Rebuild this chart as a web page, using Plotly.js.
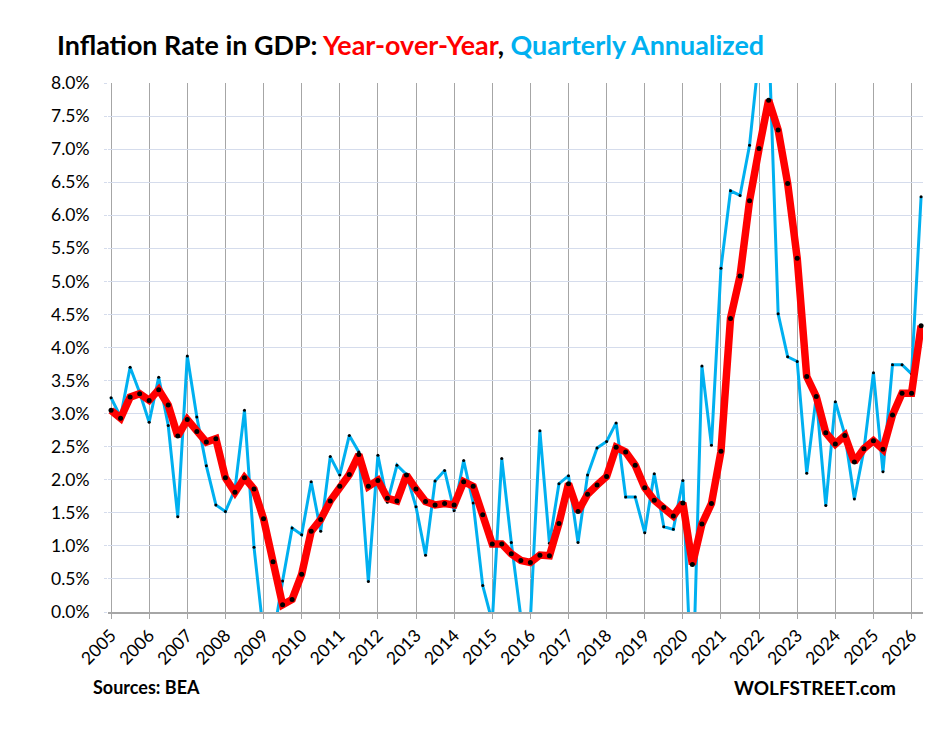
<!DOCTYPE html>
<html>
<head>
<meta charset="utf-8">
<script src="https://cdn.plot.ly/plotly-3.0.1.min.js"></script>
<style>
  html, body { margin: 0; padding: 0; background: #ffffff; }
  #chart { width: 948px; height: 737px; }
</style>
</head>
<body>
<div id="chart"></div>
<script>
// Quarterly data, 2005 Q1 through 2026 Q2
const startYear = 2005;

// Year-over-year inflation rate of the GDP price index (%)
const yoyRate = [
  3.05, 2.93, 3.25, 3.30,   // 2005
  3.20, 3.36, 3.13, 2.66,   // 2006
  2.91, 2.73, 2.57, 2.62,   // 2007
  2.03, 1.81, 2.03, 1.86,   // 2008
  1.41, 0.76, 0.11, 0.19,   // 2009
  0.57, 1.22, 1.40, 1.68,   // 2010
  1.90, 2.08, 2.38, 1.90,   // 2011
  1.99, 1.72, 1.68, 2.07,   // 2012
  1.86, 1.67, 1.62, 1.64,   // 2013
  1.62, 1.97, 1.90, 1.47,   // 2014
  1.03, 1.03, 0.88, 0.78,   // 2015
  0.75, 0.86, 0.85, 1.34,   // 2016
  1.94, 1.52, 1.78, 1.92,   // 2017
  2.05, 2.49, 2.42, 2.22,   // 2018
  1.88, 1.69, 1.58, 1.45,   // 2019
  1.65, 0.72, 1.33, 1.64,   // 2020
  2.43, 4.44, 5.08, 6.22,   // 2021
  7.01, 7.74, 7.29, 6.48,   // 2022
  5.35, 3.56, 3.26, 2.71,   // 2023
  2.54, 2.67, 2.27, 2.47,   // 2024
  2.59, 2.46, 2.98, 3.31,   // 2025
  3.31, 4.33                // 2026
];

// Quarter-over-quarter annualized inflation rate (%)
const qoqAnnualized = [
  3.24, 2.95, 3.70, 3.32,   // 2005
  2.87, 3.55, 2.82, 1.44,   // 2006
  3.87, 2.95, 2.21, 1.62,   // 2007
  1.52, 1.85, 3.05, 0.98,   // 2008
  -0.33, -0.40, 0.47, 1.27, // 2009
  1.17, 1.97, 1.22, 2.35,   // 2010
  2.07, 2.67, 2.42, 0.46,   // 2011
  2.37, 1.66, 2.22, 2.08,   // 2012
  1.59, 0.86, 1.98, 2.14,   // 2013
  1.53, 2.29, 1.65, 0.40,   // 2014
  -0.15, 2.32, 1.05, -0.08, // 2015
  -0.12, 2.74, 1.04, 1.94,  // 2016
  2.06, 1.05, 2.07, 2.48,   // 2017
  2.58, 2.86, 1.74, 1.74,   // 2018
  1.20, 2.09, 1.29, 1.25,   // 2019
  1.99, -1.40, 3.72, 2.52,  // 2020
  5.20, 6.37, 6.30, 7.06,   // 2021
  8.44, 8.77, 4.51, 3.86,   // 2022
  3.79, 2.10, 3.26, 1.61,   // 2023
  3.18, 2.68, 1.71, 2.45,   // 2024
  3.62, 2.12, 3.74, 3.74,   // 2025
  3.60, 6.28                // 2026
];

const yearTicks = [2005, 2006, 2007, 2008, 2009, 2010, 2011, 2012, 2013, 2014, 2015,
                   2016, 2017, 2018, 2019, 2020, 2021, 2022, 2023, 2024, 2025, 2026];
const yTickVals = [0, 0.5, 1, 1.5, 2, 2.5, 3, 3.5, 4, 4.5, 5, 5.5, 6, 6.5, 7, 7.5, 8];
const yTickText = ["0.0%", "0.5%", "1.0%", "1.5%", "2.0%", "2.5%", "3.0%", "3.5%", "4.0%",
                   "4.5%", "5.0%", "5.5%", "6.0%", "6.5%", "7.0%", "7.5%", "8.0%"];

// quarter positions on the time axis (Q1 at the start of the year)
const quarterX = yoyRate.map((_, i) => startYear + i / 4);

const RED = "#ff0000";
const BLUE = "#00b0f0";
const FONT = "Lato, 'Open Sans', sans-serif";

const traces = [
  {
    x: quarterX,
    y: qoqAnnualized,
    type: "scatter",
    mode: "lines+markers",
    line: { color: BLUE, width: 3 },
    marker: { color: "#000000", size: 3 },
    cliponaxis: true,
    hoverinfo: "x+y",
    name: "Quarterly Annualized"
  },
  {
    x: quarterX,
    y: yoyRate,
    type: "scatter",
    mode: "lines+markers",
    line: { color: RED, width: 7.5 },
    marker: { color: "#000000", size: 5 },
    cliponaxis: false,
    hoverinfo: "x+y",
    name: "Year-over-Year"
  }
];

const layout = {
  width: 948,
  height: 737,
  paper_bgcolor: "#ffffff",
  plot_bgcolor: "#ffffff",
  showlegend: false,
  margin: { l: 108, r: 25, t: 83, b: 125, pad: 0 },
  font: { family: FONT, color: "#000000", size: 17 },
  title: {
    text: "<b>Inflation Rate in GDP: <span style='color:" + RED + "'>Year-over-Year</span>, " +
          "<span style='color:" + BLUE + "'>Quarterly Annualized</span></b>",
    font: { family: FONT, size: 26.9, color: "#000000" },
    xref: "container",
    yref: "container",
    x: 57 / 948,
    xanchor: "left",
    y: 1 - 46 / 737,
    yanchor: "middle"
  },
  xaxis: {
    type: "linear",
    range: [2004.92, 2026.3],
    tickmode: "array",
    tickvals: yearTicks,
    ticktext: yearTicks.map(String),
    tickangle: -45,
    tickfont: { family: FONT, size: 17.5, color: "#000000" },
    showgrid: true,
    gridcolor: "#a6a6a6",
    gridwidth: 1,
    zeroline: false,
    showline: true,
    linecolor: "#a6a6a6",
    linewidth: 1.5,
    ticks: "outside",
    ticklen: 5,
    tickcolor: "#a6a6a6",
    fixedrange: true
  },
  yaxis: {
    range: [0, 8],
    tickmode: "array",
    tickvals: yTickVals,
    ticktext: yTickText,
    tickfont: { family: FONT, size: 17.5, color: "#000000" },
    showgrid: true,
    gridcolor: "#d5dcec",
    gridwidth: 1,
    zeroline: false,
    showline: false,
    ticks: "outside",
    ticklen: 3,
    tickcolor: "#d5dcec",
    ticklabelstandoff: 11,
    fixedrange: true
  },
  annotations: [
    {
      text: "<b>Sources: BEA</b>",
      xref: "paper", yref: "paper",
      x: 0, y: 0,
      xanchor: "left", yanchor: "middle",
      showarrow: false,
      font: { family: FONT, size: 18, color: "#000000" }
    },
    {
      text: "<b>WOLFSTREET.com</b>",
      xref: "paper", yref: "paper",
      x: 0, y: 0,
      xanchor: "right", yanchor: "middle",
      showarrow: false,
      font: { family: FONT, size: 19, color: "#000000" }
    }
  ]
};

// place footer texts in pixel terms relative to the plot area
const plotW = 948 - layout.margin.l - layout.margin.r;
const plotH = 737 - layout.margin.t - layout.margin.b;
layout.annotations[0].x = (91 - layout.margin.l) / plotW;
layout.annotations[0].y = -(687 - (737 - layout.margin.b)) / plotH;
layout.annotations[1].x = (898 - layout.margin.l) / plotW;
layout.annotations[1].y = -(687 - (737 - layout.margin.b)) / plotH;

Plotly.newPlot("chart", traces, layout, { displayModeBar: false, staticPlot: true });
</script>
</body>
</html>
